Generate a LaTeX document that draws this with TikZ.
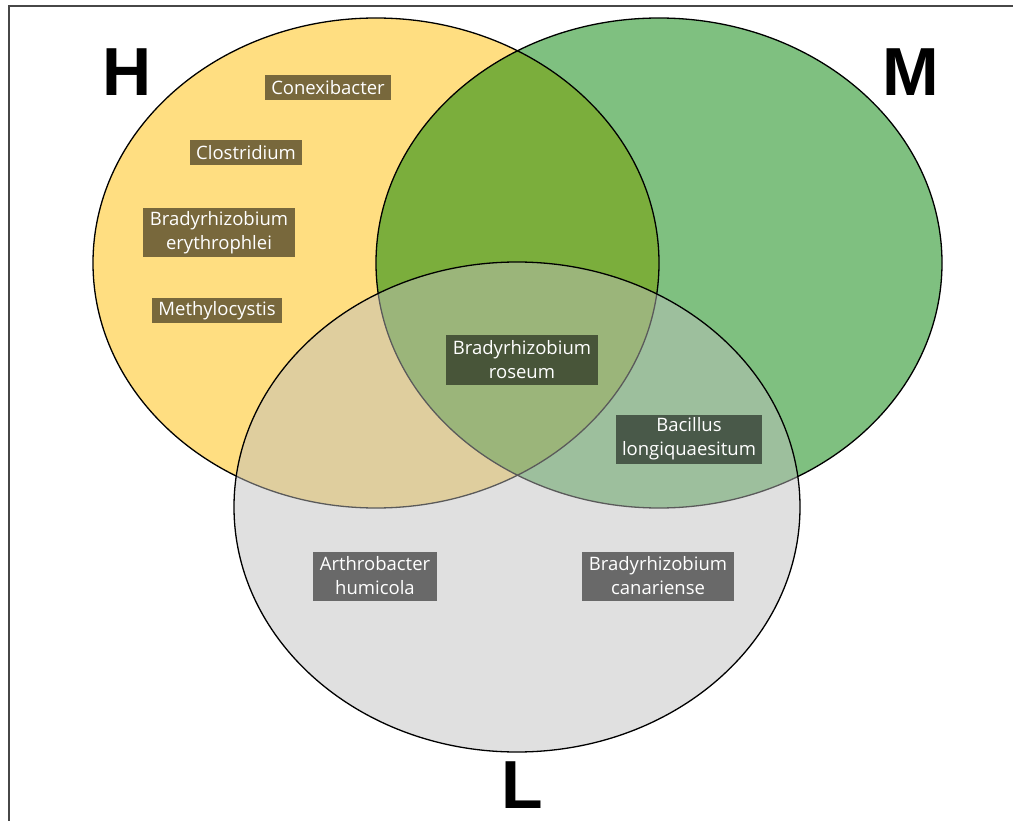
\documentclass[tikz,border=0pt]{standalone}
\usepackage{fontspec}
\setmainfont{Open Sans}
\newfontfamily\letterfont{Liberation Sans}
\definecolor{hyellow}{RGB}{255,222,129}
\definecolor{mgreen}{RGB}{127,192,128}
\definecolor{hmolive}{RGB}{123,174,60}
\definecolor{lgray}{RGB}{190,190,190}
\begin{document}
\begin{tikzpicture}[x=1pt,y=-1pt,
taxon/.style={fill=black,fill opacity=0.53,text opacity=1,text=white,align=center,inner xsep=6.5pt,inner ysep=1pt,minimum height=25pt,font=\fontsize{18.5}{24}\selectfont},
taxontwo/.style={taxon,minimum height=49pt},
setname/.style={font=\letterfont\bfseries\fontsize{68}{68}\selectfont},
rim/.style={draw=black,line width=1.3pt}
]
%\draw[help lines,step=50](0,0)grid(1013,821);
\useasboundingbox(0,0)rectangle(1013,821);
\draw[line width=2.5pt,black!72](9,821)--(9,6)--(1013,6);

% H and M
\fill[hyellow](376,263)ellipse[x radius=283pt,y radius=245pt];
\fill[mgreen](659,263)ellipse[x radius=283pt,y radius=245pt];
\begin{scope}
\clip(376,263)ellipse[x radius=283pt,y radius=245pt];
\fill[hmolive](659,263)ellipse[x radius=283pt,y radius=245pt];
\end{scope}
\draw[rim](376,263)ellipse[x radius=283pt,y radius=245pt];
\draw[rim](659,263)ellipse[x radius=283pt,y radius=245pt];

% L on top
\fill[lgray,fill opacity=0.48](517,507)ellipse[x radius=283pt,y radius=245pt];
\draw[rim](517,507)ellipse[x radius=283pt,y radius=245pt];

\node[setname]at(127,72)(hname){H};
\node[setname]at(911,72)(mname){M};
\node[setname]at(522,785)(lname){L};

\node[taxon]at(328,88)(conexi){Conexibacter};
\node[taxon]at(246,153)(clostr){Clostridium};
\node[taxontwo]at(219,233)(erythr){Bradyrhizobium\\erythrophlei};
\node[taxon]at(217,311)(methyl){Methylocystis};
\node[taxontwo]at(522,360)(roseum){Bradyrhizobium\\roseum};
\node[taxontwo]at(689,439)(bacill){Bacillus\\longiquaesitum};
\node[taxontwo]at(375,576)(arthro){Arthrobacter\\humicola};
\node[taxontwo]at(658,576)(canari){Bradyrhizobium\\canariense};

\end{tikzpicture}
\end{document}
